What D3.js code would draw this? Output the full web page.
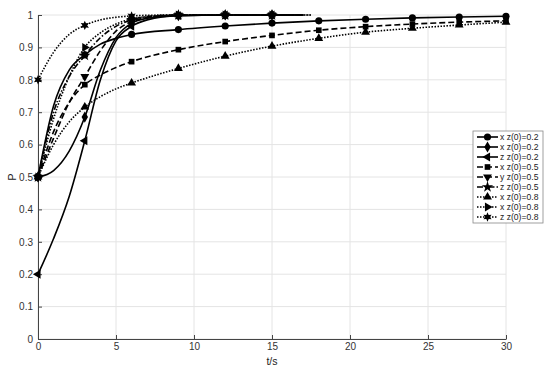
<!DOCTYPE html>
<html>
<head>
<meta charset="utf-8">
<script src="https://cdn.jsdelivr.net/npm/d3@7"></script>
<style>
  body { margin: 0; background: #fff; }
  svg { font-family: "Liberation Sans", Arial, sans-serif; }
</style>
</head>
<body>
<svg width="550" height="372"></svg>
<script>
// time samples
const tLong = [0, 1, 2, 3, 4, 5, 6, 9, 12, 15, 18, 21, 24, 27, 30]
const tShort = [0, 1, 2, 3, 4, 5, 6, 7, 9, 12, 15, 17]
const tShort2 = [0, 1, 2, 3, 4, 5, 6, 7, 9, 12, 15, 17.5]

// values
const xA = [0.5, 0.72, 0.83, 0.877, 0.91, 0.928, 0.94, 0.955, 0.966, 0.975, 0.982, 0.987, 0.991, 0.994, 0.996]
const xB = [0.5, 0.52, 0.58, 0.685, 0.83, 0.93, 0.975, 0.99, 0.998, 1, 1, 1]
const zC = [0.2, 0.31, 0.44, 0.612, 0.8, 0.92, 0.965, 0.985, 0.998, 1, 1, 1]
const xD = [0.5, 0.64, 0.73, 0.785, 0.815, 0.838, 0.856, 0.893, 0.918, 0.937, 0.953, 0.964, 0.972, 0.978, 0.982]
const yE = [0.5, 0.62, 0.73, 0.81, 0.89, 0.95, 0.98, 0.992, 0.999, 1, 1, 1]
const zF = [0.5, 0.7, 0.81, 0.875, 0.93, 0.965, 0.985, 0.995, 1, 1, 1, 1]
const xG = [0.5, 0.6, 0.67, 0.716, 0.748, 0.772, 0.79, 0.835, 0.873, 0.904, 0.928, 0.947, 0.959, 0.969, 0.978]
const xH = [0.5, 0.68, 0.81, 0.9, 0.945, 0.972, 0.988, 0.995, 1, 1, 1, 1]
const zI = [0.8, 0.885, 0.94, 0.968, 0.985, 0.993, 0.997, 0.999, 1, 1, 1, 1]

const legendLabels = ['x z(0)=0.2', 'x z(0)=0.2', 'z z(0)=0.2', 'x z(0)=0.5', 'y z(0)=0.5',
  'z z(0)=0.5', 'x z(0)=0.8', 'x z(0)=0.8', 'z z(0)=0.8']
const xTicks = [0, 5, 10, 15, 20, 25, 30]
const yTicks = [0, 0.1, 0.2, 0.3, 0.4, 0.5, 0.6, 0.7, 0.8, 0.9, 1]

const margin = { top: 15, right: 44, bottom: 33, left: 38 }
const width = 550
const height = 372

const svg = d3.select('svg')
const xScale = d3.scaleLinear().domain([0, 30]).range([margin.left, width - margin.right])
const yScale = d3.scaleLinear().domain([0, 1]).range([height - margin.bottom, margin.top])

// six point star
const hexagram = {
  draw(ctx, size) {
    const r = Math.sqrt(size) * 0.75
    const r2 = r * 0.5
    for (let i = 0; i < 12; i++) {
      const a = (i * Math.PI) / 6 - Math.PI / 2
      const rr = i % 2 === 0 ? r : r2
      if (i === 0) ctx.moveTo(rr * Math.cos(a), rr * Math.sin(a))
      else ctx.lineTo(rr * Math.cos(a), rr * Math.sin(a))
    }
    ctx.closePath()
  }
}

const series = [
  { t: tLong, v: xA, dash: null, sym: d3.symbolCircle, size: 40, rot: 0 },
  { t: tShort, v: xB, dash: null, sym: d3.symbolDiamond, size: 36, rot: 0 },
  { t: tShort, v: zC, dash: null, sym: d3.symbolTriangle, size: 34, rot: -90 },
  { t: tLong, v: xD, dash: '6,3', sym: d3.symbolSquare, size: 32, rot: 0 },
  { t: tShort, v: yE, dash: '6,3', sym: d3.symbolTriangle, size: 34, rot: 180 },
  { t: tShort, v: zF, dash: '6,2,1.5,2', sym: d3.symbolStar, size: 40, rot: 0 },
  { t: tLong, v: xG, dash: '1.5,1.5', sym: d3.symbolTriangle, size: 34, rot: 0 },
  { t: tShort2, v: xH, dash: '1.5,1.5', sym: d3.symbolTriangle, size: 34, rot: 90 },
  { t: tShort2, v: zI, dash: '1.5,1.5', sym: hexagram, size: 40, rot: 0 }
]

// grid
svg.append('g')
  .selectAll('line')
  .data(xTicks)
  .join('line')
  .attr('x1', d => xScale(d)).attr('x2', d => xScale(d))
  .attr('y1', yScale(0)).attr('y2', yScale(1))
  .attr('stroke', '#e4e4e4')
svg.append('g')
  .selectAll('line')
  .data(yTicks)
  .join('line')
  .attr('x1', xScale(0)).attr('x2', xScale(30))
  .attr('y1', d => yScale(d)).attr('y2', d => yScale(d))
  .attr('stroke', '#e4e4e4')

// axes, ticks inward
const xAxis = d3.axisBottom(xScale).tickValues(xTicks).tickSizeInner(-4).tickSizeOuter(0).tickPadding(4)
const yAxis = d3.axisLeft(yScale).tickValues(yTicks).tickSizeInner(-4).tickSizeOuter(0).tickPadding(5)
  .tickFormat(d3.format('~g'))

const gx = svg.append('g').attr('transform', `translate(0,${yScale(0)})`).call(xAxis)
const gy = svg.append('g').attr('transform', `translate(${xScale(0)},0)`).call(yAxis)
;[gx, gy].forEach(g => {
  g.select('.domain').attr('stroke', '#444')
  g.selectAll('.tick line').attr('stroke', '#444')
  g.selectAll('.tick text').attr('fill', '#333').style('font-size', '10px')
})

svg.append('text')
  .attr('x', xScale(15)).attr('y', 365)
  .attr('text-anchor', 'middle')
  .style('font-size', '10.5px').attr('fill', '#222')
  .text('t/s')
svg.append('text')
  .attr('transform', `translate(16,${yScale(0.5)}) rotate(-90)`)
  .attr('text-anchor', 'middle')
  .style('font-size', '10.5px').attr('fill', '#222')
  .text('P')

// lines
const line = d3.line()
  .x(d => xScale(d[0]))
  .y(d => yScale(d[1]))
  .curve(d3.curveMonotoneX)

const plot = svg.append('g')
series.forEach(s => {
  const pts = s.t.map((t, i) => [t, s.v[i]])
  plot.append('path')
    .datum(pts)
    .attr('d', line)
    .attr('fill', 'none')
    .attr('stroke', '#000')
    .attr('stroke-width', 1.6)
    .attr('stroke-dasharray', s.dash)
  plot.append('g')
    .selectAll('path')
    .data(pts.filter(p => p[0] % 3 === 0))
    .join('path')
    .attr('d', d3.symbol().type(s.sym).size(s.size))
    .attr('transform', d => `translate(${xScale(d[0])},${yScale(d[1])}) rotate(${s.rot})`)
    .attr('fill', '#000')
})

// legend
const lg = svg.append('g').attr('transform', 'translate(473,131)')
lg.append('rect')
  .attr('width', 70).attr('height', 92)
  .attr('fill', '#fff').attr('stroke', '#888').attr('stroke-width', 0.8)
legendLabels.forEach((lab, i) => {
  const s = series[i]
  const y = 6 + i * 10
  lg.append('line')
    .attr('x1', 4).attr('x2', 25).attr('y1', y).attr('y2', y)
    .attr('stroke', '#000').attr('stroke-width', 1.6)
    .attr('stroke-dasharray', s.dash)
  lg.append('path')
    .attr('d', d3.symbol().type(s.sym).size(s.size))
    .attr('transform', `translate(14.5,${y}) rotate(${s.rot})`)
  lg.append('text')
    .attr('x', 27).attr('y', y + 3.2)
    .style('font-size', '8.6px').attr('fill', '#222')
    .text(lab)
})
</script>
</body>
</html>
